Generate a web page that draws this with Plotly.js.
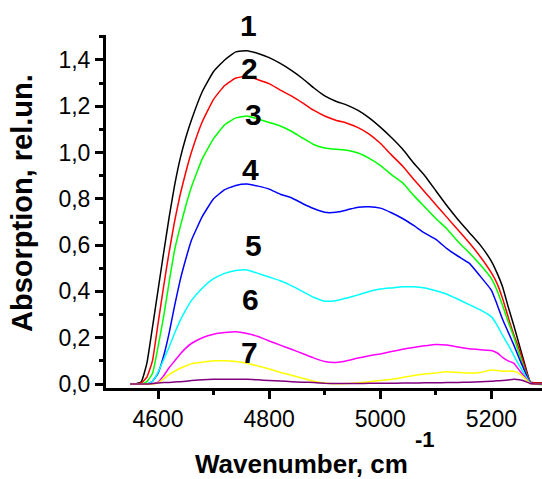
<!DOCTYPE html>
<html>
<head>
<meta charset="utf-8">
<script src="https://cdn.plot.ly/plotly-3.0.1.min.js"></script>
<style>
html, body { margin: 0; padding: 0; overflow: hidden; background: #fff; }
#chart { width: 560px; height: 479px; }
</style>
</head>
<body>
<div id="chart"></div>
<script>
// Wavenumber grid, cm^-1
const wavenumber = [4550, 4560, 4570, 4580, 4590, 4600, 4610, 4620, 4630, 4640, 4650, 4660, 4680, 4700, 4720, 4740, 4760, 4780, 4800, 4820, 4840, 4860, 4880, 4900, 4920, 4940, 4960, 4980, 5000, 5020, 5040, 5060, 5080, 5100, 5120, 5140, 5160, 5180, 5200, 5210, 5220, 5230, 5240, 5250, 5260, 5270, 5280, 5300];

const curve1 = [0, 0, 0.01, 0.09, 0.245, 0.405, 0.565, 0.72, 0.86, 0.975, 1.065, 1.14, 1.265, 1.35, 1.40, 1.435, 1.44, 1.428, 1.41, 1.385, 1.355, 1.32, 1.28, 1.245, 1.222, 1.205, 1.182, 1.15, 1.11, 1.065, 1.015, 0.955, 0.9, 0.835, 0.77, 0.71, 0.655, 0.6, 0.53, 0.48, 0.42, 0.335, 0.255, 0.17, 0.085, 0.008, 0.005, 0.003];
const curve2 = [0, 0, 0.005, 0.03, 0.10, 0.26, 0.42, 0.57, 0.705, 0.82, 0.915, 1.0, 1.135, 1.23, 1.29, 1.322, 1.33, 1.315, 1.298, 1.27, 1.245, 1.215, 1.183, 1.158, 1.14, 1.127, 1.108, 1.08, 1.04, 0.99, 0.942, 0.885, 0.83, 0.775, 0.72, 0.665, 0.61, 0.55, 0.48, 0.435, 0.37, 0.29, 0.215, 0.15, 0.075, 0.008, 0.004, 0.003];
const curve3 = [0, 0, 0, 0.01, 0.045, 0.16, 0.29, 0.44, 0.58, 0.68, 0.77, 0.85, 0.975, 1.06, 1.12, 1.15, 1.158, 1.145, 1.13, 1.115, 1.092, 1.063, 1.035, 1.02, 1.014, 1.01, 0.998, 0.975, 0.945, 0.905, 0.87, 0.815, 0.765, 0.715, 0.67, 0.615, 0.567, 0.515, 0.455, 0.405, 0.34, 0.27, 0.205, 0.13, 0.06, 0.005, 0, -0.005];
const curve4 = [0, 0, 0, 0, 0.012, 0.046, 0.12, 0.22, 0.34, 0.45, 0.54, 0.62, 0.725, 0.8, 0.84, 0.858, 0.864, 0.855, 0.842, 0.82, 0.805, 0.78, 0.758, 0.742, 0.742, 0.752, 0.764, 0.766, 0.76, 0.74, 0.715, 0.685, 0.652, 0.625, 0.585, 0.552, 0.522, 0.465, 0.405, 0.345, 0.28, 0.225, 0.17, 0.11, 0.055, 0.005, 0, 0];
const curve5 = [0, 0, 0, 0, 0.012, 0.05, 0.105, 0.16, 0.22, 0.275, 0.32, 0.36, 0.415, 0.455, 0.478, 0.49, 0.493, 0.478, 0.462, 0.446, 0.425, 0.4, 0.375, 0.358, 0.36, 0.372, 0.385, 0.4, 0.41, 0.415, 0.42, 0.42, 0.415, 0.403, 0.388, 0.366, 0.343, 0.32, 0.29, 0.255, 0.21, 0.17, 0.125, 0.08, 0.04, 0.003, 0, 0];
const curve6 = [0, 0, 0, 0, 0, 0.008, 0.035, 0.07, 0.1, 0.13, 0.155, 0.175, 0.2, 0.215, 0.222, 0.226, 0.218, 0.205, 0.186, 0.168, 0.15, 0.132, 0.113, 0.097, 0.093, 0.1, 0.112, 0.122, 0.13, 0.14, 0.15, 0.158, 0.165, 0.171, 0.168, 0.16, 0.152, 0.148, 0.145, 0.135, 0.115, 0.1, 0.09, 0.06, 0.03, 0.002, 0, 0];
const curve7 = [0, 0, 0, 0, 0, 0.005, 0.022, 0.04, 0.055, 0.068, 0.078, 0.087, 0.094, 0.1, 0.1, 0.097, 0.09, 0.078, 0.065, 0.05, 0.038, 0.025, 0.012, 0.004, 0.001, 0.002, 0.005, 0.01, 0.015, 0.02, 0.028, 0.037, 0.043, 0.048, 0.053, 0.05, 0.047, 0.05, 0.06, 0.058, 0.055, 0.056, 0.055, 0.045, 0.025, 0.002, 0, 0];
const curve8 = [0, 0, 0, 0, 0.002, 0.004, 0.006, 0.007, 0.009, 0.01, 0.012, 0.015, 0.018, 0.02, 0.02, 0.021, 0.02, 0.018, 0.015, 0.013, 0.01, 0.008, 0.006, 0.003, 0.002, 0.002, 0.002, 0.003, 0.003, 0.003, 0.004, 0.004, 0.005, 0.005, 0.006, 0.007, 0.008, 0.01, 0.012, 0.014, 0.015, 0.017, 0.02, 0.018, 0.012, 0.002, 0, 0];

const seriesValues = [curve1, curve2, curve3, curve4, curve5, curve6, curve7, curve8];
const seriesNames = ['1', '2', '3', '4', '5', '6', '7', '8'];
const seriesColors = ['#000000', '#ff0000', '#00ff00', '#0000ff', '#00ffff', '#ff00ff', '#ffff00', '#800080'];

const labelTexts = ['1', '2', '3', '4', '5', '6', '7'];
const labelX = [4762, 4765, 4771, 4767, 4772, 4767, 4765];
const labelYPaper = [1.028, 0.9065, 0.776, 0.6176, 0.4023, 0.2521, 0.0992];

const xTitle = 'Wavenumber, cm';
const xTitleSup = '-1';
const yTitle = 'Absorption, rel.un.';

const FONT = 'Arial, "Liberation Sans", sans-serif';

const traces = seriesValues.map((vals, i) => ({
  type: 'scatter',
  mode: 'lines',
  name: seriesNames[i],
  x: wavenumber,
  y: vals,
  line: { color: seriesColors[i], width: 1.5, shape: 'spline', smoothing: 0.4 },
  hoverinfo: 'skip'
}));

const annotations = labelTexts.map((t, i) => ({
  text: t,
  xref: 'x', yref: 'paper',
  x: labelX[i], y: labelYPaper[i],
  xanchor: 'center', yanchor: 'middle',
  showarrow: false,
  font: { family: FONT, size: 30, color: '#000', weight: 'bold' }
}));

annotations.push({
  text: xTitle, xref: 'paper', yref: 'paper', x: 0.4444, y: -0.214,
  xanchor: 'center', yanchor: 'middle', showarrow: false,
  font: { family: FONT, size: 26, color: '#000', weight: 'bold' }
});
annotations.push({
  text: xTitleSup, xref: 'paper', yref: 'paper', x: 0.7234, y: -0.1445,
  xanchor: 'center', yanchor: 'middle', showarrow: false,
  font: { family: FONT, size: 22, color: '#000', weight: 'bold' }
});
annotations.push({
  text: yTitle, xref: 'paper', yref: 'paper', x: -0.1905, y: 0.524,
  xanchor: 'center', yanchor: 'middle', showarrow: false, textangle: -90,
  font: { family: FONT, size: 29, color: '#000', weight: 'bold' }
});

const layout = {
  width: 560,
  height: 479,
  margin: { l: 106, r: 13, t: 35, b: 91 },
  paper_bgcolor: '#ffffff',
  plot_bgcolor: '#ffffff',
  showlegend: false,
  separators: ',.',
  font: { family: FONT, color: '#000' },
  xaxis: {
    range: [4506.4, 5300],
    showgrid: false, zeroline: false,
    showline: true, linecolor: '#000', linewidth: 3,
    ticks: 'outside', ticklen: 8, tickwidth: 3, tickcolor: '#000',
    tick0: 4600, dtick: 200,
    minor: { ticks: 'outside', ticklen: 4, tickwidth: 3, tickcolor: '#000', dtick: 100, showgrid: false },
    tickfont: { family: FONT, size: 23, color: '#000' }
  },
  yaxis: {
    range: [-0.0173, 1.508],
    showgrid: false, zeroline: false,
    showline: true, linecolor: '#000', linewidth: 3,
    ticks: 'outside', ticklen: 8, tickwidth: 3, tickcolor: '#000',
    tick0: 0, dtick: 0.2, tickformat: '.1f',
    minor: { ticks: 'outside', ticklen: 4, tickwidth: 3, tickcolor: '#000', dtick: 0.1, showgrid: false },
    tickfont: { family: FONT, size: 23, color: '#000' }
  },
  annotations: annotations
};

Plotly.newPlot('chart', traces, layout, { displayModeBar: false, staticPlot: true });
</script>
</body>
</html>
